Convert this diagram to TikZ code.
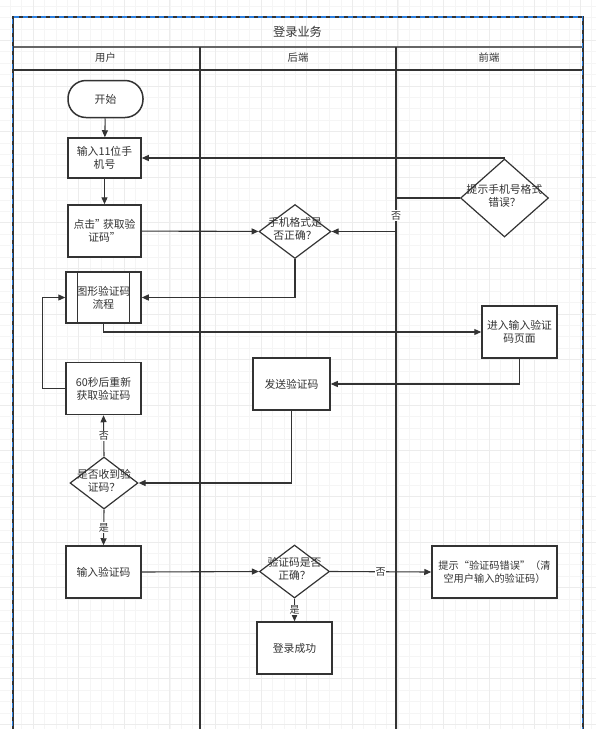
\documentclass[tikz,border=0pt]{standalone}
\usepackage{fontspec}
\setmainfont{Noto Sans CJK SC}
\usetikzlibrary{arrows.meta,shapes.geometric}
\definecolor{ln}{HTML}{333333}
\definecolor{sel}{HTML}{2B7FE0}
\definecolor{gmin}{HTML}{F5F5F5}
\definecolor{gmaj}{HTML}{ECECEC}
\newcommand\fs{\fontsize{10.8}{13}\selectfont}
\newcommand\dtx[1]{\smash{\makebox[0pt]{\raisebox{-2pt}{\begin{tabular}{@{}c@{}}#1\end{tabular}}}}}
\begin{document}
\begin{tikzpicture}[x=1pt,y=-1pt,
  box/.style={draw=ln,line width=1.5pt,fill=white,inner sep=0pt,align=center,font=\fs,text=ln},
  dia/.style={diamond,draw=ln,line width=1.2pt,fill=white,inner sep=0pt,font=\fs,text=ln},
  arr/.style={draw=ln,line width=1.1pt,-{Triangle[length=7pt,width=6pt]}},
  lab/.style={fill=white,inner sep=0.8pt,font=\fontsize{10}{11}\selectfont,text=ln},
  hdr/.style={font=\fontsize{10.3}{11}\selectfont,text=ln}]
\useasboundingbox (0,0) rectangle (596,729);
% grid
\foreach \i in {0,...,52} \draw[gmin,line width=0.6pt] ({10.3+11.4*\i},0) -- ({10.3+11.4*\i},729);
\foreach \i in {0,...,64} \draw[gmin,line width=0.6pt] (0,{6.1+11.4*\i}) -- (596,{6.1+11.4*\i});
\foreach \i in {0,...,13} \draw[gmaj,line width=0.7pt] ({32.9+45.6*\i},0) -- ({32.9+45.6*\i},729);
\foreach \i in {0,...,16} \draw[gmaj,line width=0.7pt] (0,{40.3+45.6*\i}) -- (596,{40.3+45.6*\i});
% pool
\draw[gray!80!black,line width=1.2pt] (12.5,47) -- (582.5,47);
\draw[ln,line width=1.5pt] (12.5,70) -- (582.5,70);
\draw[ln,line width=1.6pt] (200,47) -- (200,735);
\draw[ln,line width=1.6pt] (396,47) -- (396,735);
\draw[ln,line width=2pt] (12.5,735) -- (12.5,17) -- (582.5,17) -- (582.5,735);
\draw[sel,line width=1.6pt,dash pattern=on 5pt off 4pt] (12.5,735) -- (12.5,17) -- (582.5,17) -- (582.5,735);
\node[font=\fontsize{12.2}{13}\selectfont,text=ln] (title) at (297.5,32) {登录业务};
\node[hdr] (h1) at (105.5,58) {用户};
\node[hdr] (h2) at (298,58) {后端};
\node[hdr] (h3) at (489,58) {前端};
% nodes
\node[box,rounded corners=18pt,minimum width=75pt,minimum height=37pt] (start) at (105.5,99) {开始};
\node[box,minimum width=73pt,minimum height=40pt] (n1) at (104.5,158) {输入11位手\\机号};
\node[box,minimum width=73pt,minimum height=52pt] (n2) at (104.5,231) {点击"\kern-3pt获取验\\证码"};
\node[dia,minimum width=72pt,minimum height=54pt] (d1) at (295,231.5) {\dtx{手机格式是\\否正确？}};
\node[dia,minimum width=88pt,minimum height=78pt] (d2) at (504.5,198) {\dtx{提示手机号格式\\错误？}};
\node[box,minimum width=75pt,minimum height=51pt] (g) at (103.5,297.5) {图形验证码\\流程};
\draw[ln,line width=1.2pt] ([xshift=12.5pt]g.north west) -- ([xshift=12.5pt]g.south west);
\draw[ln,line width=1.2pt] ([xshift=-12.5pt]g.north east) -- ([xshift=-12.5pt]g.south east);
\node[box,minimum width=75pt,minimum height=52pt] (p) at (519.5,332) {进入输入验证\\码页面};
\node[box,minimum width=77pt,minimum height=52pt] (s) at (291.5,384) {发送验证码};
\node[box,minimum width=75pt,minimum height=52pt] (r) at (103.5,388.5) {60秒后重新\\获取验证码};
\node[dia,minimum width=68pt,minimum height=52pt] (d3) at (104,483) {\dtx{是否收到验\\证码？}};
\node[box,minimum width=75pt,minimum height=52pt] (i) at (103.5,572) {输入验证码};
\node[dia,minimum width=70pt,minimum height=53pt] (d4) at (294.5,571.5) {\dtx{验证码是否\\正确？}};
\node[box,minimum width=125pt,minimum height=52pt,font=\fontsize{10.2}{13}\selectfont] (e) at (494.5,572) {提示“验证码错误”（清\\空用户输入的验证码）};
\node[box,minimum width=75pt,minimum height=52pt] (ok) at (294.5,648) {登录成功};
% connectors
\draw[arr] (start) -- (n1);
\draw[arr] (n1) -- (n2);
\draw[arr] (n2) -- (d1);
\draw[arr] (d1.south) |- (g.east);
\draw[arr] (d2.north) |- (n1.east);
\coordinate (k) at (396,215.5);
\draw[arr] (d2.west) -| (k) |- (d1.east);
\node[lab] (kl) at (k) {否};
\draw[arr] (g.south) |- (p.west);
\draw[arr] (p.south) |- (s.east);
\draw[arr] (s.south) |- (d3.east);
\draw[arr] (d3.north) -- node[lab]{否} (r.south);
\draw[arr] (r.west) -- ++(-23,0) |- (g.west);
\draw[arr] (d3.south) -- node[lab]{是} (i.north);
\draw[arr] (i.east) -- (d4.west);
\draw[arr] (d4.east) -- node[lab]{否} (e.west);
\draw[arr] (d4.south) -- node[lab]{是} (ok.north);
\end{tikzpicture}
\end{document}
